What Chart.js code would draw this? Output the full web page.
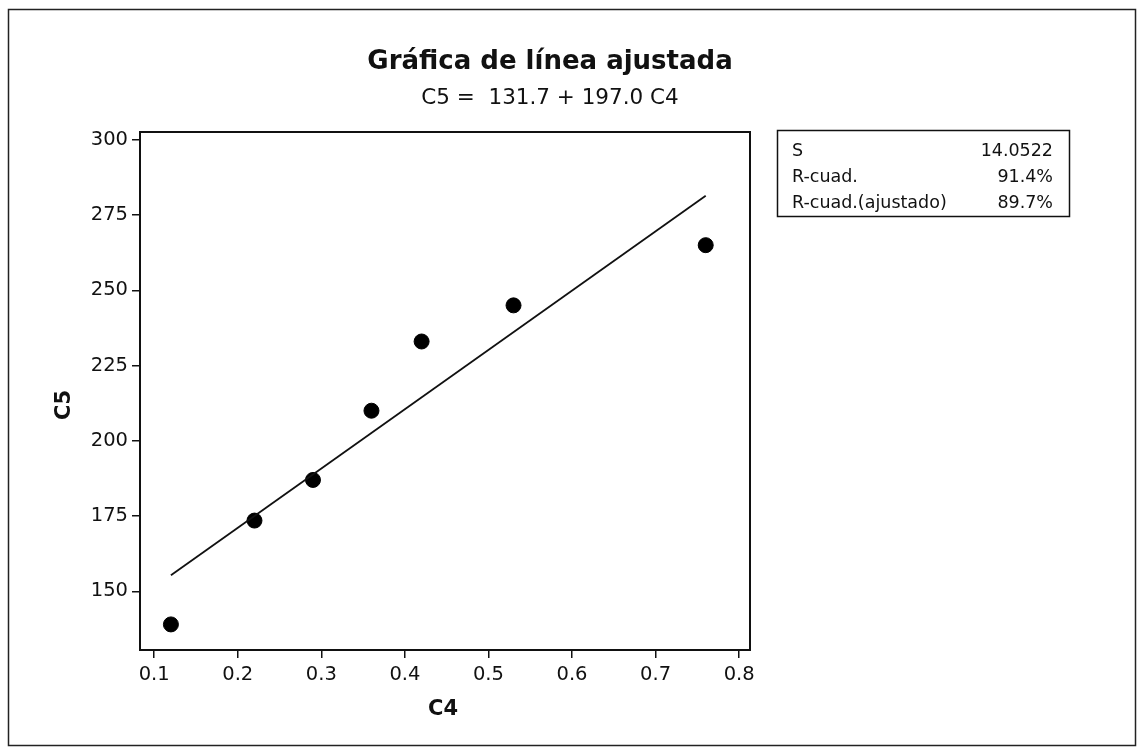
<!DOCTYPE html>
<html>
<head>
<meta charset="utf-8">
<script src="https://cdn.jsdelivr.net/npm/chart.js@4/dist/chart.umd.min.js"></script>
<style>
html,body{margin:0;padding:0;background:#fff;}
#wrap{width:1137px;height:750px;}
</style>
</head>
<body>
<div id="wrap"><canvas id="c" width="1137" height="750"></canvas></div>
<script>
// Data
const c4Values = [0.12, 0.22, 0.29, 0.36, 0.42, 0.53, 0.76];
const c5Values = [139, 173.5, 187, 210, 233, 245, 265];
const fitX = [0.12, 0.76];
const fitY = [155.3, 281.4];
const xTicks = [0.1, 0.2, 0.3, 0.4, 0.5, 0.6, 0.7, 0.8];
const yTicks = [150, 175, 200, 225, 250, 275, 300];
const titleText = 'Gráfica de línea ajustada';
const subtitleText = 'C5 =  131.7 + 197.0 C4';
const statLabels = ['S', 'R-cuad.', 'R-cuad.(ajustado)'];
const statValues = ['14.0522', '91.4%', '89.7%'];
const xTitle = 'C4';
const yTitle = 'C5';

const FONT = '"DejaVu Sans", Verdana, sans-serif';

const decor = {
  id: 'decor',
  beforeDraw(chart) {
    const ctx = chart.ctx;
    ctx.save();
    ctx.fillStyle = '#fff';
    ctx.fillRect(0, 0, chart.width, chart.height);
    ctx.strokeStyle = '#222';
    ctx.lineWidth = 1.5;
    ctx.strokeRect(8.5, 9.5, 1127, 736);
    ctx.restore();
  },
  afterDraw(chart) {
    const ctx = chart.ctx;
    const a = chart.chartArea;
    ctx.save();
    // plot frame
    ctx.strokeStyle = '#111';
    ctx.lineWidth = 2;
    ctx.strokeRect(a.left, a.top, a.right - a.left, a.bottom - a.top);
    // titles
    ctx.fillStyle = '#111';
    ctx.textAlign = 'center';
    ctx.textBaseline = 'middle';
    ctx.font = 'bold 26px ' + FONT;
    ctx.fillText(titleText, 550, 62);
    ctx.font = '21.5px ' + FONT;
    ctx.fillText(subtitleText, 550, 98);
    // axis titles
    ctx.font = 'bold 21px ' + FONT;
    ctx.fillText(xTitle, 443, 710);
    ctx.save();
    ctx.translate(65, 405);
    ctx.rotate(-Math.PI / 2);
    ctx.fillText(yTitle, 0, 0);
    ctx.restore();
    // stats box
    ctx.lineWidth = 1.5;
    ctx.strokeRect(777.5, 130.5, 292, 86);
    ctx.font = '17.5px ' + FONT;
    const rows = [151, 177, 203];
    statLabels.forEach((s, i) => {
      ctx.textAlign = 'left';
      ctx.fillText(s, 792, rows[i]);
      ctx.textAlign = 'right';
      ctx.fillText(statValues[i], 1053, rows[i]);
    });
    ctx.restore();
  }
};

new Chart(document.getElementById('c'), {
  type: 'scatter',
  data: {
    datasets: [
      {
        label: 'Ajuste',
        type: 'line',
        data: fitX.map((x, i) => ({x: x, y: fitY[i]})),
        borderColor: '#111',
        borderWidth: 1.8,
        pointRadius: 0,
        fill: false,
        tension: 0
      },
      {
        label: 'C5',
        data: c4Values.map((x, i) => ({x: x, y: c5Values[i]})),
        backgroundColor: '#000',
        borderColor: '#000',
        pointRadius: 7.5,
        pointHoverRadius: 7.5
      }
    ]
  },
  options: {
    responsive: false,
    animation: false,
    devicePixelRatio: 1,
    layout: {padding: {left: 0, top: 132, right: 387, bottom: 0}},
    plugins: {legend: {display: false}, tooltip: {enabled: false}, title: {display: false}},
    scales: {
      x: {
        type: 'linear',
        min: 0.083,
        max: 0.813,
        afterBuildTicks(s) { s.ticks = xTicks.map(v => ({value: v})); },
        afterFit(s) { s.height = 100; },
        grid: {drawOnChartArea: false, drawTicks: true, tickLength: 8, color: '#111', lineWidth: 1.5},
        border: {display: true, color: '#111', width: 2},
        ticks: {color: '#111', font: {family: FONT, size: 19.5}, padding: 5, maxRotation: 0,
          callback: v => (Math.round(v * 10) / 10).toFixed(1)}
      },
      y: {
        type: 'linear',
        min: 130.5,
        max: 302.6,
        afterBuildTicks(s) { s.ticks = yTicks.map(v => ({value: v})); },
        afterFit(s) { s.width = 140; },
        grid: {drawOnChartArea: false, drawTicks: true, tickLength: 8, color: '#111', lineWidth: 1.5},
        border: {display: true, color: '#111', width: 2},
        ticks: {color: '#111', font: {family: FONT, size: 19.5}, padding: 4,
          callback: v => String(v)}
      }
    }
  },
  plugins: [decor]
});
</script>
</body>
</html>
